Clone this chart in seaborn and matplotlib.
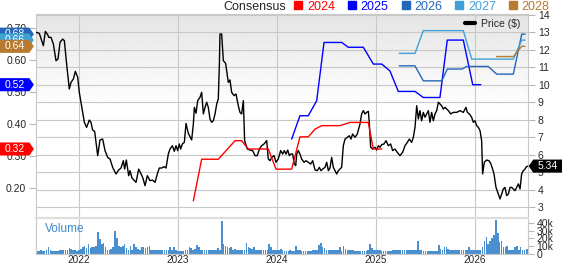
import matplotlib
matplotlib.use("Agg")
import matplotlib.pyplot as plt
import matplotlib.transforms as mtransforms
from matplotlib.lines import Line2D
from matplotlib.path import Path
import numpy as np
import seaborn as sns

# price history, x as decimal years
price_year = [
    2021.566, 2021.599, 2021.640, 2021.660, 2021.684, 2021.694, 2021.717, 2021.741, 2021.768, 2021.788,
    2021.808, 2021.835, 2021.852, 2021.875, 2021.902, 2021.919, 2021.943, 2021.963, 2021.987, 2022.003,
    2022.020, 2022.037, 2022.054, 2022.077, 2022.104, 2022.121, 2022.138, 2022.158, 2022.189, 2022.212,
    2022.239, 2022.263, 2022.290, 2022.313, 2022.340, 2022.374, 2022.401, 2022.424, 2022.448, 2022.461,
    2022.478, 2022.502, 2022.515, 2022.535, 2022.559, 2022.576, 2022.603, 2022.643, 2022.667, 2022.690,
    2022.717, 2022.744, 2022.768, 2022.791, 2022.811, 2022.835, 2022.859, 2022.879, 2022.902, 2022.919,
    2022.943, 2022.963, 2022.980, 2022.997, 2023.013, 2023.027, 2023.044, 2023.064, 2023.081, 2023.104,
    2023.121, 2023.138, 2023.155, 2023.165, 2023.182, 2023.199, 2023.222, 2023.239, 2023.256, 2023.273,
    2023.290, 2023.306, 2023.323, 2023.340, 2023.357, 2023.374, 2023.391, 2023.407, 2023.418, 2023.424,
    2023.441, 2023.458, 2023.481, 2023.508, 2023.525, 2023.542, 2023.566, 2023.586, 2023.609, 2023.626,
    2023.643, 2023.660, 2023.673, 2023.700, 2023.727, 2023.754, 2023.778, 2023.801, 2023.822, 2023.845,
    2023.869, 2023.896, 2023.912, 2023.929, 2023.946, 2023.970, 2023.990, 2024.013, 2024.037, 2024.057,
    2024.074, 2024.091, 2024.108, 2024.125, 2024.138, 2024.158, 2024.175, 2024.189, 2024.199, 2024.215,
    2024.232, 2024.249, 2024.273, 2024.293, 2024.316, 2024.340, 2024.360, 2024.384, 2024.407, 2024.428,
    2024.444, 2024.461, 2024.485, 2024.502, 2024.519, 2024.535, 2024.552, 2024.569, 2024.586, 2024.603,
    2024.620, 2024.636, 2024.653, 2024.670, 2024.687, 2024.710, 2024.731, 2024.747, 2024.764, 2024.788,
    2024.811, 2024.838, 2024.855, 2024.872, 2024.889, 2024.906, 2024.923, 2024.933, 2024.946, 2024.966,
    2024.990, 2025.007, 2025.024, 2025.040, 2025.057, 2025.081, 2025.101, 2025.125, 2025.148, 2025.168,
    2025.192, 2025.215, 2025.242, 2025.269, 2025.293, 2025.316, 2025.337, 2025.360, 2025.377, 2025.394,
    2025.411, 2025.428, 2025.444, 2025.461, 2025.478, 2025.495, 2025.512, 2025.529, 2025.545, 2025.562,
    2025.579, 2025.596, 2025.613, 2025.630, 2025.646, 2025.663, 2025.680, 2025.697, 2025.714, 2025.731,
    2025.754, 2025.781, 2025.815, 2025.848, 2025.882, 2025.909, 2025.923, 2025.943, 2025.966, 2025.983,
    2026.000, 2026.017, 2026.034, 2026.051, 2026.067, 2026.077, 2026.094, 2026.118, 2026.141, 2026.158,
    2026.178, 2026.192, 2026.212, 2026.229, 2026.253, 2026.269, 2026.286, 2026.303, 2026.320, 2026.337,
    2026.354, 2026.370, 2026.387, 2026.404, 2026.421, 2026.438, 2026.455, 2026.471, 2026.488, 2026.505,
    2026.518, 2026.534,
]
price_usd = [
    13.01, 12.95, 12.24, 13.06, 12.87, 12.72, 12.72, 12.34, 11.38, 11.48,
    12.43, 12.62, 12.53, 11.19, 9.76, 10.14, 10.33, 10.77, 10.43, 9.57,
    9.00, 8.42, 7.85, 7.56, 7.98, 7.85, 7.41, 7.33, 5.94, 6.84,
    6.89, 6.23, 5.84, 5.75, 5.27, 4.89, 5.12, 5.23, 5.65, 5.17,
    5.69, 4.79, 5.08, 4.66, 4.51, 4.41, 5.17, 4.70, 4.22, 4.79,
    4.51, 4.54, 4.41, 4.89, 5.23, 5.23, 5.31, 5.23, 6.03, 6.32,
    6.51, 6.19, 6.51, 6.23, 6.61, 6.32, 6.61, 6.70, 7.79, 7.22,
    7.03, 6.84, 7.75, 8.71, 8.37, 9.09, 9.28, 9.57, 8.33, 8.71,
    9.00, 8.71, 8.04, 7.85, 7.94, 8.33, 8.90, 9.19, 11.19, 12.91,
    12.91, 11.38, 11.23, 10.14, 10.28, 9.57, 9.38, 9.47, 8.80, 8.42,
    8.33, 9.09, 6.80, 6.32, 6.26, 6.23, 5.94, 5.94, 6.32, 6.51,
    6.61, 6.80, 5.75, 5.65, 5.84, 5.94, 5.56, 5.75, 6.23, 6.03,
    6.23, 6.03, 6.26, 5.94, 6.03, 6.03, 5.46, 5.37, 6.03, 6.23,
    6.03, 5.75, 5.56, 5.65, 5.56, 5.46, 5.65, 5.12, 5.08, 5.27,
    5.08, 5.17, 5.27, 5.56, 5.08, 5.23, 5.84, 5.27, 5.08, 4.89,
    5.08, 5.17, 5.27, 6.51, 6.89, 6.99, 7.08, 6.89, 7.18, 6.99,
    7.18, 7.75, 8.33, 8.52, 8.33, 8.42, 8.48, 7.75, 6.42, 6.32,
    6.42, 6.26, 6.51, 6.42, 6.57, 6.61, 6.80, 6.51, 6.61, 6.23,
    6.32, 6.13, 5.94, 6.13, 6.51, 6.70, 6.89, 6.70, 6.99, 7.56,
    8.80, 8.04, 8.52, 7.94, 8.42, 8.14, 8.33, 8.52, 7.85, 8.42,
    7.94, 8.33, 8.52, 9.00, 8.90, 8.80, 8.61, 8.71, 8.61, 8.52,
    8.33, 8.42, 8.42, 8.52, 8.42, 8.71, 8.42, 8.33, 8.14, 7.85,
    7.94, 7.66, 7.56, 7.37, 6.80, 4.89, 5.56, 5.69, 5.65, 5.50,
    5.17, 4.89, 4.12, 3.84, 3.46, 3.74, 4.03, 4.12, 3.65, 3.74,
    4.12, 4.12, 4.03, 3.93, 4.12, 4.32, 4.03, 4.89, 5.08, 5.17,
    5.30, 5.34,
]

# consensus EPS estimates by fiscal year
eps_2024_year = [2023.155, 2023.239, 2023.407, 2023.576, 2023.643, 2023.710, 2023.912, 2023.990, 2024.148,
                 2024.232, 2024.316, 2024.384, 2024.452, 2024.636, 2024.737, 2024.922, 2024.973, 2025.058]
eps_2024 = [0.16, 0.29, 0.29, 0.348, 0.348, 0.322, 0.322, 0.259, 0.259,
            0.36, 0.36, 0.384, 0.395, 0.395, 0.405, 0.405, 0.322, 0.322]
eps_2025_year = [2024.148, 2024.232, 2024.316, 2024.401, 2024.475, 2024.654, 2024.720, 2024.872, 2024.973, 2025.058,
                 2025.141, 2025.225, 2025.394, 2025.478, 2025.646, 2025.720, 2025.882, 2025.977, 2026.058]
eps_2025 = [0.353, 0.426, 0.426, 0.473, 0.655, 0.655, 0.64, 0.64, 0.5875, 0.5875,
            0.566, 0.502, 0.502, 0.483, 0.483, 0.6625, 0.6625, 0.523, 0.523]
eps_2026_year = [2025.235, 2025.394, 2025.478, 2025.664, 2025.720, 2025.869, 2025.916, 2026.134, 2026.219,
                 2026.387, 2026.472, 2026.505]
eps_2026 = [0.582, 0.582, 0.535, 0.535, 0.572, 0.572, 0.58, 0.58, 0.556, 0.556, 0.681, 0.681]
eps_2027_year = [2025.235, 2025.394, 2025.478, 2025.882, 2025.967, 2026.387, 2026.472, 2026.505]
eps_2027 = [0.621, 0.621, 0.692, 0.692, 0.603, 0.603, 0.6625, 0.6625]
eps_2028_year = [2026.219, 2026.387, 2026.472, 2026.505]
eps_2028 = [0.611, 0.611, 0.643, 0.643]

fiscal_years = ["2024", "2025", "2026", "2027", "2028"]
fiscal_colors = ["#ff0000", "#0000ff", "#2566b8", "#3fa2d6", "#b87a2e"]

# weekly volume (thousands of shares)
vol_start = 2021.576
volume_k = [
    3, 3, 4, 3, 3, 4, 9, 4, 3, 3,
    3, 3, 4, 4, 5, 4, 5, 7, 6, 4,
    4, 3, 4, 6, 8, 10, 7, 13, 7, 9,
    8, 10, 28, 19, 12, 14, 8, 5, 5, 6,
    9, 30, 21, 10, 8, 10, 12, 7, 5, 10,
    5, 13, 8, 6, 5, 8, 8, 7, 8, 10,
    5, 5, 4, 5, 4, 5, 5, 4, 5, 4,
    8, 5, 8, 4, 3, 3, 3, 3, 4, 4,
    9, 7, 4, 6, 11, 9, 5, 5, 5, 5,
    5, 5, 4, 5, 5, 7, 5, 43, 13, 10,
    8, 7, 8, 5, 6, 5, 5, 4, 5, 5,
    14, 8, 7, 6, 8, 4, 4, 4, 4, 4,
    4, 4, 13, 8, 5, 5, 5, 5, 6, 5,
    3, 3, 3, 5, 3, 3, 10, 5, 5, 3,
    3, 3, 3, 3, 3, 4, 4, 5, 11, 14,
    8, 7, 4, 4, 4, 4, 4, 4, 5, 9,
    3, 10, 6, 5, 5, 4, 5, 3, 3, 3,
    3, 3, 3, 3, 5, 13, 7, 4, 4, 4,
    4, 3, 3, 3, 3, 3, 3, 4, 5, 5,
    4, 5, 4, 4, 4, 4, 4, 4, 4, 4,
    17, 5, 4, 3, 3, 3, 3, 3, 3, 3,
    3, 11, 6, 5, 8, 8, 6, 5, 5, 4,
    4, 4, 4, 4, 4, 4, 5, 8, 5, 5,
    5, 5, 5, 5, 9, 17, 22, 13, 16, 20,
    24, 45, 27, 15, 17, 8, 8, 10, 5, 5,
    5, 8, 10, 5, 9, 5, 5, 6, 6,
]
year_ticks = [2022, 2023, 2024, 2025, 2026]

W, H = 562, 264
GRID = "#c8c8c8"


def px_box(x0, y0, x1, y1):
    return [x0 / W, 1 - y1 / H, (x1 - x0) / W, (y1 - y0) / H]


def tag_right(x0, y0, width, height, mutation_size):
    px, py = 0.45 * mutation_size, 0.15 * mutation_size
    x0, y0 = x0 - px, y0 - py
    x1, y1 = x0 + width + 2 * px, y0 + height + 2 * py
    tip = 0.35 * (y1 - y0)
    return Path([(x0, y0), (x1, y0), (x1 + tip, (y0 + y1) / 2), (x1, y1), (x0, y1), (x0, y0)], closed=True)


def tag_left(x0, y0, width, height, mutation_size):
    px, py = 0.45 * mutation_size, 0.15 * mutation_size
    x0, y0 = x0 - px, y0 - py
    x1, y1 = x0 + width + 2 * px, y0 + height + 2 * py
    tip = 0.35 * (y1 - y0)
    return Path([(x0, y0), (x1, y0), (x1, y1), (x0, y1), (x0 - tip, (y0 + y1) / 2), (x0, y0)], closed=True)


sns.set_style("white")
plt.rcParams["font.family"] = ["Liberation Sans", "DejaVu Sans"]

fig = plt.figure(figsize=(W / 100, H / 100), dpi=100)
ax = fig.add_axes(px_box(36, 14, 528, 216.5))
ax_vol = fig.add_axes(px_box(36, 218, 528, 253.5))
ax_eps = ax.twinx()

x_lo, x_hi = 2022 + (36 - 79) / 99, 2022 + (528 - 79) / 99

# background gradient (gray at top fading to white)
shade = np.clip(np.linspace(0.895, 1.12, 200), 0, 1)[:, None]
ax.imshow(shade, extent=(0, 1, 0, 1), transform=ax.transAxes, cmap="gray", vmin=0, vmax=1,
          aspect="auto", zorder=0, interpolation="bilinear")

sns.lineplot(x=price_year, y=price_usd, ax=ax, color="black", linewidth=1.0,
             estimator=None, sort=False, legend=False, zorder=3)

eps_series = [(eps_2024_year, eps_2024), (eps_2025_year, eps_2025), (eps_2026_year, eps_2026),
              (eps_2027_year, eps_2027), (eps_2028_year, eps_2028)]
for (xs, ys), col in zip(eps_series, fiscal_colors):
    sns.lineplot(x=xs, y=ys, ax=ax_eps, color=col, linewidth=1.0, estimator=None, sort=False, legend=False)

ax.set_xlim(x_lo, x_hi)
ax.set_ylim(2.453, 14.057)
ax_eps.set_ylim(0.111, 0.744)
ax.set_xticks(year_ticks)
ax.set_yticks(range(3, 15))
ax.grid(True, color=GRID, linewidth=0.8)
ax.set_axisbelow(True)
ax.yaxis.tick_right()
ax.tick_params(axis="x", length=0, labelbottom=False)
ax.tick_params(axis="y", right=True, left=False, labelright=True, labelleft=False,
               length=5, color="#b8b8b8", labelsize=7.5, pad=2)
ax_eps.yaxis.tick_left()
ax_eps.set_yticks([0.2, 0.3, 0.4, 0.5, 0.6, 0.7])
ax_eps.set_yticklabels([f"{v:.2f}" for v in [0.2, 0.3, 0.4, 0.5, 0.6, 0.7]])
ax_eps.tick_params(axis="y", left=True, right=False, labelleft=True, labelright=False,
                   length=5, color="#b8b8b8", labelsize=7.5, pad=2)
ax_eps.grid(False)
for a in (ax, ax_eps):
    a.set_xlabel("")
    a.set_ylabel("")
for side in ("top", "left", "right"):
    ax.spines[side].set_color(GRID)
    ax.spines[side].set_linewidth(0.8)
ax.spines["bottom"].set_visible(False)
for sp in ax_eps.spines.values():
    sp.set_visible(False)

# volume panel
vol_year = vol_start + np.arange(len(volume_k)) / 52
ax_vol.bar(vol_year, np.array(volume_k) * 1000, width=0.85 / 52, color="#4a90d0", linewidth=0)
ax_vol.set_xlim(x_lo, x_hi)
ax_vol.set_ylim(0, 47000)
ax_vol.set_xticks(year_ticks)
ax_vol.set_xticklabels([str(y) for y in year_ticks])
ax_vol.set_yticks([0, 10000, 20000, 30000, 40000])
ax_vol.set_yticklabels(["0", "10k", "20k", "30k", "40k"])
ax_vol.yaxis.tick_right()
ax_vol.tick_params(axis="y", right=True, left=False, labelright=True, labelleft=False,
                   length=4, color="#b8b8b8", labelsize=7.5, pad=2)
ax_vol.tick_params(axis="x", length=0, labelsize=7.2, pad=1.2)
ax_vol.grid(axis="x", color=GRID, linewidth=0.8)
ax_vol.set_axisbelow(True)
for side in ("left", "right", "bottom"):
    ax_vol.spines[side].set_color(GRID)
    ax_vol.spines[side].set_linewidth(0.8)
ax_vol.spines["top"].set_color("#dedede")
ax_vol.spines["top"].set_linewidth(1.6)
ax_vol.text((45 - 36) / 492, 0.69, "Volume", transform=ax_vol.transAxes, color="#3d8bd0",
            fontsize=8.5, ha="left", va="center")

# value tags on the left (latest consensus) and right (latest price)
left_tr = mtransforms.blended_transform_factory(ax_eps.transAxes, ax_eps.transData)
for i, ((xs, ys), col) in enumerate(zip(eps_series, fiscal_colors)):
    ax_eps.text((14.5 - 36) / 492, ys[-1], f"{ys[-1]:.2f}", transform=left_tr, ha="center", va="center",
                color="white", fontsize=7.5, clip_on=False, zorder=10 + i,
                bbox=dict(boxstyle=tag_right, fc=col, ec="none"))
ax_eps.text((548 - 36) / 492, (price_usd[-1] - 2.453) / (14.057 - 2.453), f"{price_usd[-1]:.2f}",
            transform=ax_eps.transAxes, ha="center", va="center", color="white", fontsize=7.5,
            clip_on=False, zorder=20, bbox=dict(boxstyle=tag_left, fc="black", ec="none"))

# legends
ax_eps.legend(handles=[Line2D([], [], color="black", linewidth=3)], labels=["Price ($)"],
              loc="upper right", bbox_to_anchor=((520 - 36) / 492, (216.5 - 19) / 202.5),
              frameon=False, fontsize=7.5, handlelength=1.0, handletextpad=0.5,
              borderpad=0, borderaxespad=0)

fig.text(223 / W, 1 - 6.5 / H, "Consensus", fontsize=9, ha="left", va="center")
handles = [Line2D([], [], marker="s", linestyle="", markersize=5.5, color=c) for c in fiscal_colors]
leg = fig.legend(handles=handles, labels=fiscal_years, ncol=5, loc="center left",
                 bbox_to_anchor=(294 / W, 1 - 6.5 / H), frameon=False, fontsize=9,
                 handlelength=0.7, handletextpad=0.35, columnspacing=1.0, borderpad=0, borderaxespad=0)
for txt, col in zip(leg.get_texts(), fiscal_colors):
    txt.set_color(col)

fig.savefig("out.png", dpi=100)
